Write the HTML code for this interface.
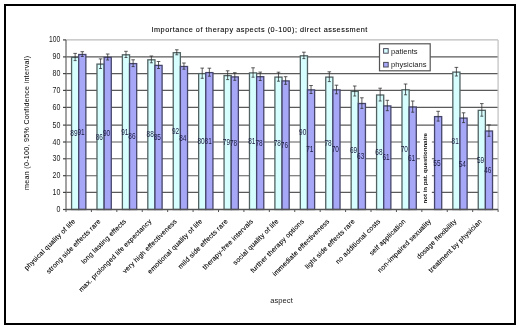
<!DOCTYPE html>
<html><head><meta charset="utf-8"><style>
html,body{margin:0;padding:0;background:#fff;}
body{width:520px;height:329px;overflow:hidden;font-family:"Liberation Sans", sans-serif;}
svg{display:block;will-change:transform;}
</style></head><body>
<svg width="520" height="329" viewBox="0 0 520 329" font-family='"Liberation Sans", sans-serif'><rect x="0" y="0" width="520" height="329" fill="#fff"/><line x1="66.0" y1="192.40" x2="498.1" y2="192.40" stroke="#5a5a5a" stroke-width="1.1"/><line x1="66.0" y1="175.70" x2="498.1" y2="175.70" stroke="#5a5a5a" stroke-width="1.1"/><line x1="66.0" y1="158.80" x2="498.1" y2="158.80" stroke="#5a5a5a" stroke-width="1.1"/><line x1="66.0" y1="142.00" x2="498.1" y2="142.00" stroke="#5a5a5a" stroke-width="1.1"/><line x1="66.0" y1="125.10" x2="498.1" y2="125.10" stroke="#5a5a5a" stroke-width="1.1"/><line x1="66.0" y1="107.40" x2="498.1" y2="107.40" stroke="#5a5a5a" stroke-width="1.1"/><line x1="66.0" y1="90.40" x2="498.1" y2="90.40" stroke="#5a5a5a" stroke-width="1.1"/><line x1="66.0" y1="73.60" x2="498.1" y2="73.60" stroke="#5a5a5a" stroke-width="1.1"/><line x1="66.0" y1="56.90" x2="498.1" y2="56.90" stroke="#5a5a5a" stroke-width="1.1"/><line x1="66.0" y1="39.90" x2="498.1" y2="39.90" stroke="#bbb" stroke-width="1.1"/><rect x="71.56" y="57.40" width="7.15" height="152.10" fill="#d6feff" stroke="#526262" stroke-width="1.3"/><rect x="78.71" y="54.50" width="7.15" height="155.00" fill="#a7a7f7" stroke="#46466c" stroke-width="1.3"/><rect x="96.98" y="64.10" width="7.15" height="145.40" fill="#d6feff" stroke="#526262" stroke-width="1.3"/><rect x="104.13" y="57.40" width="7.15" height="152.10" fill="#a7a7f7" stroke="#46466c" stroke-width="1.3"/><rect x="122.39" y="54.80" width="7.15" height="154.70" fill="#d6feff" stroke="#526262" stroke-width="1.3"/><rect x="129.54" y="63.60" width="7.15" height="145.90" fill="#a7a7f7" stroke="#46466c" stroke-width="1.3"/><rect x="147.81" y="59.80" width="7.15" height="149.70" fill="#d6feff" stroke="#526262" stroke-width="1.3"/><rect x="154.96" y="65.40" width="7.15" height="144.10" fill="#a7a7f7" stroke="#46466c" stroke-width="1.3"/><rect x="173.23" y="52.70" width="7.15" height="156.80" fill="#d6feff" stroke="#526262" stroke-width="1.3"/><rect x="180.38" y="66.50" width="7.15" height="143.00" fill="#a7a7f7" stroke="#46466c" stroke-width="1.3"/><rect x="198.65" y="73.60" width="7.15" height="135.90" fill="#d6feff" stroke="#526262" stroke-width="1.3"/><rect x="205.80" y="72.60" width="7.15" height="136.90" fill="#a7a7f7" stroke="#46466c" stroke-width="1.3"/><rect x="224.06" y="75.60" width="7.15" height="133.90" fill="#d6feff" stroke="#526262" stroke-width="1.3"/><rect x="231.21" y="76.90" width="7.15" height="132.60" fill="#a7a7f7" stroke="#46466c" stroke-width="1.3"/><rect x="249.48" y="72.90" width="7.15" height="136.60" fill="#d6feff" stroke="#526262" stroke-width="1.3"/><rect x="256.63" y="76.70" width="7.15" height="132.80" fill="#a7a7f7" stroke="#46466c" stroke-width="1.3"/><rect x="274.90" y="77.10" width="7.15" height="132.40" fill="#d6feff" stroke="#526262" stroke-width="1.3"/><rect x="282.05" y="80.90" width="7.15" height="128.60" fill="#a7a7f7" stroke="#46466c" stroke-width="1.3"/><rect x="300.32" y="55.80" width="7.15" height="153.70" fill="#d6feff" stroke="#526262" stroke-width="1.3"/><rect x="307.47" y="89.90" width="7.15" height="119.60" fill="#a7a7f7" stroke="#46466c" stroke-width="1.3"/><rect x="325.74" y="77.10" width="7.15" height="132.40" fill="#d6feff" stroke="#526262" stroke-width="1.3"/><rect x="332.89" y="89.90" width="7.15" height="119.60" fill="#a7a7f7" stroke="#46466c" stroke-width="1.3"/><rect x="351.15" y="91.40" width="7.15" height="118.10" fill="#d6feff" stroke="#526262" stroke-width="1.3"/><rect x="358.30" y="103.50" width="7.15" height="106.00" fill="#a7a7f7" stroke="#46466c" stroke-width="1.3"/><rect x="376.57" y="95.00" width="7.15" height="114.50" fill="#d6feff" stroke="#526262" stroke-width="1.3"/><rect x="383.72" y="105.90" width="7.15" height="103.60" fill="#a7a7f7" stroke="#46466c" stroke-width="1.3"/><rect x="401.99" y="89.80" width="7.15" height="119.70" fill="#d6feff" stroke="#526262" stroke-width="1.3"/><rect x="409.14" y="107.00" width="7.15" height="102.50" fill="#a7a7f7" stroke="#46466c" stroke-width="1.3"/><rect x="434.56" y="116.60" width="7.15" height="92.90" fill="#a7a7f7" stroke="#46466c" stroke-width="1.3"/><rect x="452.82" y="72.10" width="7.15" height="137.40" fill="#d6feff" stroke="#526262" stroke-width="1.3"/><rect x="459.97" y="118.10" width="7.15" height="91.40" fill="#a7a7f7" stroke="#46466c" stroke-width="1.3"/><rect x="478.24" y="110.30" width="7.15" height="99.20" fill="#d6feff" stroke="#526262" stroke-width="1.3"/><rect x="485.39" y="131.00" width="7.15" height="78.50" fill="#a7a7f7" stroke="#46466c" stroke-width="1.3"/><path d="M75.13 53.40V60.60M73.33 53.40h3.6M73.63 60.60h3" stroke="#2a2a2a" stroke-width="0.75" fill="none"/><path d="M82.28 51.70V56.50M80.48 51.70h3.6M80.78 56.50h3" stroke="#2a2a2a" stroke-width="0.75" fill="none"/><path d="M100.55 58.90V68.50M98.75 58.90h3.6M99.05 68.50h3" stroke="#2a2a2a" stroke-width="0.75" fill="none"/><path d="M107.70 54.00V60.00M105.90 54.00h3.6M106.20 60.00h3" stroke="#2a2a2a" stroke-width="0.75" fill="none"/><path d="M125.97 51.30V57.50M124.17 51.30h3.6M124.47 57.50h3" stroke="#2a2a2a" stroke-width="0.75" fill="none"/><path d="M133.12 59.80V66.60M131.32 59.80h3.6M131.62 66.60h3" stroke="#2a2a2a" stroke-width="0.75" fill="none"/><path d="M151.39 56.00V62.80M149.59 56.00h3.6M149.89 62.80h3" stroke="#2a2a2a" stroke-width="0.75" fill="none"/><path d="M158.54 61.50V68.50M156.74 61.50h3.6M157.04 68.50h3" stroke="#2a2a2a" stroke-width="0.75" fill="none"/><path d="M176.80 49.80V54.80M175.00 49.80h3.6M175.30 54.80h3" stroke="#2a2a2a" stroke-width="0.75" fill="none"/><path d="M183.95 63.00V69.20M182.15 63.00h3.6M182.45 69.20h3" stroke="#2a2a2a" stroke-width="0.75" fill="none"/><path d="M202.22 68.10V78.30M200.42 68.10h3.6M200.72 78.30h3" stroke="#2a2a2a" stroke-width="0.75" fill="none"/><path d="M209.37 68.20V76.20M207.57 68.20h3.6M207.87 76.20h3" stroke="#2a2a2a" stroke-width="0.75" fill="none"/><path d="M227.64 70.80V79.60M225.84 70.80h3.6M226.14 79.60h3" stroke="#2a2a2a" stroke-width="0.75" fill="none"/><path d="M234.79 72.70V80.30M232.99 72.70h3.6M233.29 80.30h3" stroke="#2a2a2a" stroke-width="0.75" fill="none"/><path d="M253.06 67.80V77.20M251.26 67.80h3.6M251.56 77.20h3" stroke="#2a2a2a" stroke-width="0.75" fill="none"/><path d="M260.21 72.10V80.50M258.41 72.10h3.6M258.71 80.50h3" stroke="#2a2a2a" stroke-width="0.75" fill="none"/><path d="M278.48 72.20V81.20M276.68 72.20h3.6M276.98 81.20h3" stroke="#2a2a2a" stroke-width="0.75" fill="none"/><path d="M285.62 76.70V84.30M283.82 76.70h3.6M284.12 84.30h3" stroke="#2a2a2a" stroke-width="0.75" fill="none"/><path d="M303.89 52.20V58.60M302.09 52.20h3.6M302.39 58.60h3" stroke="#2a2a2a" stroke-width="0.75" fill="none"/><path d="M311.04 85.50V93.50M309.24 85.50h3.6M309.54 93.50h3" stroke="#2a2a2a" stroke-width="0.75" fill="none"/><path d="M329.31 71.80V81.60M327.51 71.80h3.6M327.81 81.60h3" stroke="#2a2a2a" stroke-width="0.75" fill="none"/><path d="M336.46 85.20V93.80M334.66 85.20h3.6M334.96 93.80h3" stroke="#2a2a2a" stroke-width="0.75" fill="none"/><path d="M354.73 86.00V96.00M352.93 86.00h3.6M353.23 96.00h3" stroke="#2a2a2a" stroke-width="0.75" fill="none"/><path d="M361.88 97.80V108.40M360.08 97.80h3.6M360.38 108.40h3" stroke="#2a2a2a" stroke-width="0.75" fill="none"/><path d="M380.15 88.20V101.00M378.35 88.20h3.6M378.65 101.00h3" stroke="#2a2a2a" stroke-width="0.75" fill="none"/><path d="M387.30 100.30V110.70M385.50 100.30h3.6M385.80 110.70h3" stroke="#2a2a2a" stroke-width="0.75" fill="none"/><path d="M405.56 84.00V94.80M403.76 84.00h3.6M404.06 94.80h3" stroke="#2a2a2a" stroke-width="0.75" fill="none"/><path d="M412.71 101.00V112.20M410.91 101.00h3.6M411.21 112.20h3" stroke="#2a2a2a" stroke-width="0.75" fill="none"/><path d="M438.13 111.30V121.10M436.33 111.30h3.6M436.63 121.10h3" stroke="#2a2a2a" stroke-width="0.75" fill="none"/><path d="M456.40 67.40V76.00M454.60 67.40h3.6M454.90 76.00h3" stroke="#2a2a2a" stroke-width="0.75" fill="none"/><path d="M463.55 112.80V122.60M461.75 112.80h3.6M462.05 122.60h3" stroke="#2a2a2a" stroke-width="0.75" fill="none"/><path d="M481.82 103.60V116.20M480.02 103.60h3.6M480.32 116.20h3" stroke="#2a2a2a" stroke-width="0.75" fill="none"/><path d="M488.97 124.90V136.30M487.17 124.90h3.6M487.47 136.30h3" stroke="#2a2a2a" stroke-width="0.75" fill="none"/><text x="70.33" y="136.15" font-size="8.2" textLength="7.2" lengthAdjust="spacingAndGlyphs" fill="#1a1a40">89</text><text x="77.48" y="134.70" font-size="8.2" textLength="7.2" lengthAdjust="spacingAndGlyphs" fill="#1a1a40">91</text><text x="95.75" y="139.50" font-size="8.2" textLength="7.2" lengthAdjust="spacingAndGlyphs" fill="#1a1a40">86</text><text x="102.90" y="136.15" font-size="8.2" textLength="7.2" lengthAdjust="spacingAndGlyphs" fill="#1a1a40">90</text><text x="121.17" y="134.85" font-size="8.2" textLength="7.2" lengthAdjust="spacingAndGlyphs" fill="#1a1a40">91</text><text x="128.32" y="139.25" font-size="8.2" textLength="7.2" lengthAdjust="spacingAndGlyphs" fill="#1a1a40">86</text><text x="146.59" y="137.35" font-size="8.2" textLength="7.2" lengthAdjust="spacingAndGlyphs" fill="#1a1a40">88</text><text x="153.74" y="140.15" font-size="8.2" textLength="7.2" lengthAdjust="spacingAndGlyphs" fill="#1a1a40">85</text><text x="172.00" y="133.80" font-size="8.2" textLength="7.2" lengthAdjust="spacingAndGlyphs" fill="#1a1a40">92</text><text x="179.15" y="140.70" font-size="8.2" textLength="7.2" lengthAdjust="spacingAndGlyphs" fill="#1a1a40">84</text><text x="197.42" y="144.25" font-size="8.2" textLength="7.2" lengthAdjust="spacingAndGlyphs" fill="#1a1a40">80</text><text x="204.57" y="143.75" font-size="8.2" textLength="7.2" lengthAdjust="spacingAndGlyphs" fill="#1a1a40">81</text><text x="222.84" y="145.25" font-size="8.2" textLength="7.2" lengthAdjust="spacingAndGlyphs" fill="#1a1a40">79</text><text x="229.99" y="145.90" font-size="8.2" textLength="7.2" lengthAdjust="spacingAndGlyphs" fill="#1a1a40">78</text><text x="248.26" y="143.90" font-size="8.2" textLength="7.2" lengthAdjust="spacingAndGlyphs" fill="#1a1a40">81</text><text x="255.41" y="145.80" font-size="8.2" textLength="7.2" lengthAdjust="spacingAndGlyphs" fill="#1a1a40">78</text><text x="273.68" y="146.00" font-size="8.2" textLength="7.2" lengthAdjust="spacingAndGlyphs" fill="#1a1a40">78</text><text x="280.83" y="147.90" font-size="8.2" textLength="7.2" lengthAdjust="spacingAndGlyphs" fill="#1a1a40">76</text><text x="299.09" y="135.35" font-size="8.2" textLength="7.2" lengthAdjust="spacingAndGlyphs" fill="#1a1a40">90</text><text x="306.24" y="152.40" font-size="8.2" textLength="7.2" lengthAdjust="spacingAndGlyphs" fill="#1a1a40">71</text><text x="324.51" y="146.00" font-size="8.2" textLength="7.2" lengthAdjust="spacingAndGlyphs" fill="#1a1a40">78</text><text x="331.66" y="152.40" font-size="8.2" textLength="7.2" lengthAdjust="spacingAndGlyphs" fill="#1a1a40">70</text><text x="349.93" y="153.15" font-size="8.2" textLength="7.2" lengthAdjust="spacingAndGlyphs" fill="#1a1a40">69</text><text x="357.08" y="159.20" font-size="8.2" textLength="7.2" lengthAdjust="spacingAndGlyphs" fill="#1a1a40">63</text><text x="375.35" y="154.95" font-size="8.2" textLength="7.2" lengthAdjust="spacingAndGlyphs" fill="#1a1a40">68</text><text x="382.50" y="160.40" font-size="8.2" textLength="7.2" lengthAdjust="spacingAndGlyphs" fill="#1a1a40">61</text><text x="400.76" y="152.35" font-size="8.2" textLength="7.2" lengthAdjust="spacingAndGlyphs" fill="#1a1a40">70</text><text x="407.91" y="160.95" font-size="8.2" textLength="7.2" lengthAdjust="spacingAndGlyphs" fill="#1a1a40">61</text><text x="433.33" y="165.75" font-size="8.2" textLength="7.2" lengthAdjust="spacingAndGlyphs" fill="#1a1a40">55</text><text x="451.60" y="143.50" font-size="8.2" textLength="7.2" lengthAdjust="spacingAndGlyphs" fill="#1a1a40">81</text><text x="458.75" y="166.50" font-size="8.2" textLength="7.2" lengthAdjust="spacingAndGlyphs" fill="#1a1a40">54</text><text x="477.02" y="162.60" font-size="8.2" textLength="7.2" lengthAdjust="spacingAndGlyphs" fill="#1a1a40">59</text><text x="484.17" y="172.95" font-size="8.2" textLength="7.2" lengthAdjust="spacingAndGlyphs" fill="#1a1a40">46</text><line x1="498.1" y1="39.9" x2="498.1" y2="209.5" stroke="#c4c4c4" stroke-width="1.3"/><line x1="66.0" y1="39.9" x2="66.0" y2="209.5" stroke="#707070" stroke-width="1.3"/><line x1="66.0" y1="209.5" x2="498.1" y2="209.5" stroke="#555" stroke-width="1.4"/><line x1="63.0" y1="209.50" x2="66.0" y2="209.50" stroke="#444" stroke-width="1.2"/><text x="60.3" y="212.00" font-size="8.4" text-anchor="end" textLength="3.9" lengthAdjust="spacingAndGlyphs" fill="#1a1a1a">0</text><line x1="63.0" y1="192.40" x2="66.0" y2="192.40" stroke="#444" stroke-width="1.2"/><text x="60.3" y="194.90" font-size="8.4" text-anchor="end" textLength="7.8" lengthAdjust="spacingAndGlyphs" fill="#1a1a1a">10</text><line x1="63.0" y1="175.70" x2="66.0" y2="175.70" stroke="#444" stroke-width="1.2"/><text x="60.3" y="178.20" font-size="8.4" text-anchor="end" textLength="7.8" lengthAdjust="spacingAndGlyphs" fill="#1a1a1a">20</text><line x1="63.0" y1="158.80" x2="66.0" y2="158.80" stroke="#444" stroke-width="1.2"/><text x="60.3" y="161.30" font-size="8.4" text-anchor="end" textLength="7.8" lengthAdjust="spacingAndGlyphs" fill="#1a1a1a">30</text><line x1="63.0" y1="142.00" x2="66.0" y2="142.00" stroke="#444" stroke-width="1.2"/><text x="60.3" y="144.50" font-size="8.4" text-anchor="end" textLength="7.8" lengthAdjust="spacingAndGlyphs" fill="#1a1a1a">40</text><line x1="63.0" y1="125.10" x2="66.0" y2="125.10" stroke="#444" stroke-width="1.2"/><text x="60.3" y="127.60" font-size="8.4" text-anchor="end" textLength="7.8" lengthAdjust="spacingAndGlyphs" fill="#1a1a1a">50</text><line x1="63.0" y1="107.40" x2="66.0" y2="107.40" stroke="#444" stroke-width="1.2"/><text x="60.3" y="109.90" font-size="8.4" text-anchor="end" textLength="7.8" lengthAdjust="spacingAndGlyphs" fill="#1a1a1a">60</text><line x1="63.0" y1="90.40" x2="66.0" y2="90.40" stroke="#444" stroke-width="1.2"/><text x="60.3" y="92.90" font-size="8.4" text-anchor="end" textLength="7.8" lengthAdjust="spacingAndGlyphs" fill="#1a1a1a">70</text><line x1="63.0" y1="73.60" x2="66.0" y2="73.60" stroke="#444" stroke-width="1.2"/><text x="60.3" y="76.10" font-size="8.4" text-anchor="end" textLength="7.8" lengthAdjust="spacingAndGlyphs" fill="#1a1a1a">80</text><line x1="63.0" y1="56.90" x2="66.0" y2="56.90" stroke="#444" stroke-width="1.2"/><text x="60.3" y="59.40" font-size="8.4" text-anchor="end" textLength="7.8" lengthAdjust="spacingAndGlyphs" fill="#1a1a1a">90</text><line x1="63.0" y1="39.90" x2="66.0" y2="39.90" stroke="#444" stroke-width="1.2"/><text x="60.3" y="42.40" font-size="8.4" text-anchor="end" textLength="11.2" lengthAdjust="spacingAndGlyphs" fill="#1a1a1a">100</text><line x1="66.00" y1="209.5" x2="66.00" y2="212.0" stroke="#555" stroke-width="1"/><line x1="91.42" y1="209.5" x2="91.42" y2="212.0" stroke="#555" stroke-width="1"/><line x1="116.84" y1="209.5" x2="116.84" y2="212.0" stroke="#555" stroke-width="1"/><line x1="142.25" y1="209.5" x2="142.25" y2="212.0" stroke="#555" stroke-width="1"/><line x1="167.67" y1="209.5" x2="167.67" y2="212.0" stroke="#555" stroke-width="1"/><line x1="193.09" y1="209.5" x2="193.09" y2="212.0" stroke="#555" stroke-width="1"/><line x1="218.51" y1="209.5" x2="218.51" y2="212.0" stroke="#555" stroke-width="1"/><line x1="243.92" y1="209.5" x2="243.92" y2="212.0" stroke="#555" stroke-width="1"/><line x1="269.34" y1="209.5" x2="269.34" y2="212.0" stroke="#555" stroke-width="1"/><line x1="294.76" y1="209.5" x2="294.76" y2="212.0" stroke="#555" stroke-width="1"/><line x1="320.18" y1="209.5" x2="320.18" y2="212.0" stroke="#555" stroke-width="1"/><line x1="345.59" y1="209.5" x2="345.59" y2="212.0" stroke="#555" stroke-width="1"/><line x1="371.01" y1="209.5" x2="371.01" y2="212.0" stroke="#555" stroke-width="1"/><line x1="396.43" y1="209.5" x2="396.43" y2="212.0" stroke="#555" stroke-width="1"/><line x1="421.85" y1="209.5" x2="421.85" y2="212.0" stroke="#555" stroke-width="1"/><line x1="447.26" y1="209.5" x2="447.26" y2="212.0" stroke="#555" stroke-width="1"/><line x1="472.68" y1="209.5" x2="472.68" y2="212.0" stroke="#555" stroke-width="1"/><line x1="498.10" y1="209.5" x2="498.10" y2="212.0" stroke="#555" stroke-width="1"/><text transform="translate(75.71,221.80) rotate(-45)" font-size="6.8" letter-spacing="0.2" text-anchor="end" fill="#000" stroke="#000" stroke-width="0.1">physical quality of life</text><text transform="translate(101.13,221.80) rotate(-45)" font-size="6.8" letter-spacing="0.2" text-anchor="end" fill="#000" stroke="#000" stroke-width="0.1">strong side effects rare</text><text transform="translate(126.54,221.80) rotate(-45)" font-size="6.8" letter-spacing="0.2" text-anchor="end" fill="#000" stroke="#000" stroke-width="0.1">long lasting effects</text><text transform="translate(151.96,221.80) rotate(-45)" font-size="6.8" letter-spacing="0.2" text-anchor="end" fill="#000" stroke="#000" stroke-width="0.1">max. prolonged life expectancy</text><text transform="translate(177.38,221.80) rotate(-45)" font-size="6.8" letter-spacing="0.2" text-anchor="end" fill="#000" stroke="#000" stroke-width="0.1">very high effectiveness</text><text transform="translate(202.80,221.80) rotate(-45)" font-size="6.8" letter-spacing="0.2" text-anchor="end" fill="#000" stroke="#000" stroke-width="0.1">emotional quality of life</text><text transform="translate(228.21,221.80) rotate(-45)" font-size="6.8" letter-spacing="0.2" text-anchor="end" fill="#000" stroke="#000" stroke-width="0.1">mild side effects rare</text><text transform="translate(253.63,221.80) rotate(-45)" font-size="6.8" letter-spacing="0.2" text-anchor="end" fill="#000" stroke="#000" stroke-width="0.1">therapy-free intervals</text><text transform="translate(279.05,221.80) rotate(-45)" font-size="6.8" letter-spacing="0.2" text-anchor="end" fill="#000" stroke="#000" stroke-width="0.1">social quality of life</text><text transform="translate(304.47,221.80) rotate(-45)" font-size="6.8" letter-spacing="0.2" text-anchor="end" fill="#000" stroke="#000" stroke-width="0.1">further therapy options</text><text transform="translate(329.89,221.80) rotate(-45)" font-size="6.8" letter-spacing="0.2" text-anchor="end" fill="#000" stroke="#000" stroke-width="0.1">immediate effectiveness</text><text transform="translate(355.30,221.80) rotate(-45)" font-size="6.8" letter-spacing="0.2" text-anchor="end" fill="#000" stroke="#000" stroke-width="0.1">light side effects rare</text><text transform="translate(380.72,221.80) rotate(-45)" font-size="6.8" letter-spacing="0.2" text-anchor="end" fill="#000" stroke="#000" stroke-width="0.1">no additional costs</text><text transform="translate(406.14,221.80) rotate(-45)" font-size="6.8" letter-spacing="0.2" text-anchor="end" fill="#000" stroke="#000" stroke-width="0.1">self application</text><text transform="translate(431.56,221.80) rotate(-45)" font-size="6.8" letter-spacing="0.2" text-anchor="end" fill="#000" stroke="#000" stroke-width="0.1">non-impaired sexuality</text><text transform="translate(456.97,221.80) rotate(-45)" font-size="6.8" letter-spacing="0.2" text-anchor="end" fill="#000" stroke="#000" stroke-width="0.1">dosage flexibility</text><text transform="translate(482.39,221.80) rotate(-45)" font-size="6.8" letter-spacing="0.2" text-anchor="end" fill="#000" stroke="#000" stroke-width="0.1">treatment by physician</text><rect x="419.85" y="129" width="12" height="79" fill="#fff"/><text transform="translate(427.45,203.5) rotate(-90)" font-size="6.2" font-weight="bold" textLength="70.5" lengthAdjust="spacing" fill="#111">not in pat. questionnaire</text><text x="151.4" y="31.8" font-size="7.3" textLength="216" lengthAdjust="spacing" fill="#000" stroke="#000" stroke-width="0.08">Importance of therapy aspects (0-100); direct assessment</text><text transform="translate(28.9,122.9) rotate(-90)" font-size="7.1" text-anchor="middle" textLength="134" lengthAdjust="spacing" fill="#000">mean (0-100, 95% Confidence interval)</text><text x="270.2" y="303.1" font-size="7.6" textLength="22.6" lengthAdjust="spacing" fill="#1a1a1a">aspect</text><rect x="379.5" y="43.8" width="50.7" height="27" fill="#fff" stroke="#555" stroke-width="1.2"/><rect x="383.6" y="48.6" width="4.6" height="4.6" fill="#d6feff" stroke="#4c4c5c" stroke-width="1"/><rect x="383.6" y="62.4" width="4.6" height="4.6" fill="#a7a7f7" stroke="#4c4c5c" stroke-width="1"/><text x="391" y="53.9" font-size="7.6" textLength="26.6" lengthAdjust="spacing" fill="#1a1a1a">patients</text><text x="391" y="67.4" font-size="7.6" textLength="35.5" lengthAdjust="spacing" fill="#1a1a1a">physicians</text><rect x="5" y="5" width="510" height="319" fill="none" stroke="#000" stroke-width="2"/></svg>
</body></html>
